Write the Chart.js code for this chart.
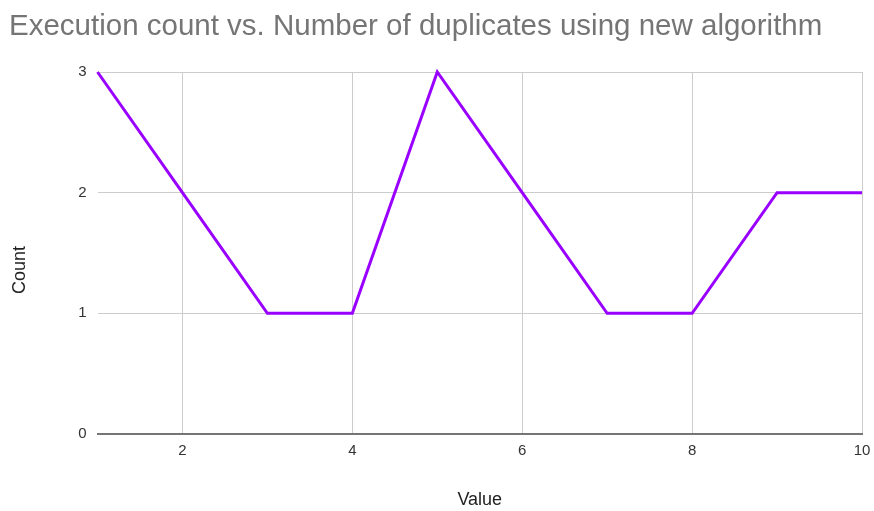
<!DOCTYPE html>
<html>
<head>
<meta charset="utf-8">
<script src="https://cdn.jsdelivr.net/npm/chart.js@4/dist/chart.umd.min.js"></script>
<style>
  html, body { margin: 0; padding: 0; background: #ffffff; }
  #wrap { width: 874px; height: 511px; }
</style>
</head>
<body>
<div id="wrap"><canvas id="c" width="874" height="511"></canvas></div>
<script>
const chartTitle = "Execution count vs. Number of duplicates using new algorithm";
const xAxisTitle = "Value";
const yAxisTitle = "Count";
const values = [1, 2, 3, 4, 5, 6, 7, 8, 9, 10];
const counts = [3, 2, 1, 1, 3, 2, 1, 1, 2, 2];
const xTickValues = [2, 4, 6, 8, 10];
const yTickValues = [0, 1, 2, 3];

const FONT = "'Liberation Sans', Arial, sans-serif";

const yTitlePlugin = {
  id: 'yTitle',
  afterDraw(chart) {
    const ctx = chart.ctx;
    ctx.save();
    ctx.translate(20, 270);
    ctx.rotate(-Math.PI / 2);
    ctx.textAlign = 'center';
    ctx.textBaseline = 'middle';
    ctx.font = "18px " + FONT;
    ctx.fillStyle = '#222222';
    ctx.fillText(yAxisTitle, 0, 0);
    ctx.restore();
  }
};

new Chart(document.getElementById('c'), {
  type: 'line',
  data: {
    datasets: [{
      data: values.map((v, i) => ({ x: v, y: counts[i] })),
      borderColor: '#9900ff',
      backgroundColor: '#9900ff',
      borderWidth: 3,
      pointRadius: 0,
      tension: 0,
      clip: false
    }]
  },
  options: {
    responsive: false,
    animation: false,
    devicePixelRatio: 1,
    layout: { padding: { left: 9, right: 12, top: 0, bottom: 0 } },
    plugins: {
      legend: { display: false },
      tooltip: { enabled: false },
      title: {
        display: true,
        text: chartTitle,
        align: 'start',
        color: '#757575',
        font: { family: FONT, size: 29.5, weight: 'normal', lineHeight: 1.2 },
        padding: { top: 9.4, bottom: 27.2 }
      }
    },
    scales: {
      x: {
        type: 'linear',
        min: 1,
        max: 10,
        afterBuildTicks(scale) { scale.ticks = xTickValues.map(v => ({ value: v })); },
        afterFit(scale) { scale.height = 77; scale.paddingLeft = 0; scale.paddingRight = 0; },
        grid: { color: '#cccccc', lineWidth: 1, drawTicks: false },
        border: { display: true, color: '#757575', width: 2 },
        ticks: {
          color: '#333333',
          padding: 8,
          maxRotation: 0,
          font: { family: FONT, size: 15 }
        },
        title: {
          display: true,
          text: xAxisTitle,
          color: '#222222',
          padding: { top: 0, bottom: 0 },
          font: { family: FONT, size: 18 }
        }
      },
      y: {
        type: 'linear',
        min: 0,
        max: 3,
        afterBuildTicks(scale) { scale.ticks = yTickValues.map(v => ({ value: v })); },
        afterFit(scale) { scale.width = 88.5; scale.paddingTop = 0; scale.paddingBottom = 0; },
        grid: { color: '#cccccc', lineWidth: 1, drawTicks: false },
        border: { display: false },
        ticks: {
          color: '#333333',
          padding: 11,
          font: { family: FONT, size: 15 }
        }
      }
    }
  },
  plugins: [yTitlePlugin]
});
</script>
</body>
</html>
